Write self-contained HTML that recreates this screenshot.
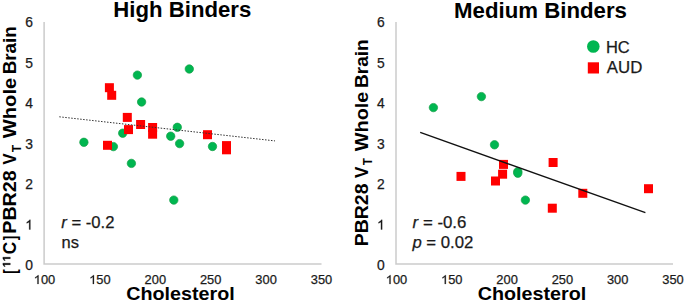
<!DOCTYPE html>
<html><head><meta charset="utf-8">
<style>
html,body{margin:0;padding:0;background:#fff;}
body{width:685px;height:303px;overflow:hidden;}
svg{display:block;font-family:"Liberation Sans", sans-serif;}
.t{font-size:12.7px;fill:#1a1a1a;stroke:#1a1a1a;stroke-width:0.25px;}
.ty{font-size:14.2px;fill:#1a1a1a;stroke:#1a1a1a;stroke-width:0.25px;}
.ti{font-size:21.3px;font-weight:bold;fill:#000;}
.xl{font-size:17.5px;font-weight:bold;fill:#000;}
.yl{font-size:18px;font-weight:bold;fill:#000;}
.st{font-size:16.5px;fill:#1a1a1a;stroke:#1a1a1a;stroke-width:0.25px;}
.lg{font-size:16.5px;fill:#1a1a1a;stroke:#1a1a1a;stroke-width:0.25px;}
</style></head>
<body>
<svg width="685" height="303" viewBox="0 0 685 303">
<rect width="685" height="303" fill="#fff"/>

<path d="M44.1 22V264H321.5" fill="none" stroke="#cbcbcb" stroke-width="1.5"/>
<text class="ty" x="25.21" y="270.00" textLength="7.70" lengthAdjust="spacingAndGlyphs">0</text>
<path d="M763 0L583 0L583 1098Q518 1038 413 979Q307 920 223 890L223 1057Q374 1125 487 1221Q600 1318 647 1409L763 1409Z" transform="translate(25.21 229.53) scale(0.00676 -0.00693)" fill="#1a1a1a" stroke="#1a1a1a" stroke-width="36.1"/>
<text class="ty" x="25.21" y="189.06" textLength="7.70" lengthAdjust="spacingAndGlyphs">2</text>
<text class="ty" x="25.21" y="148.59" textLength="7.70" lengthAdjust="spacingAndGlyphs">3</text>
<text class="ty" x="25.21" y="108.12" textLength="7.70" lengthAdjust="spacingAndGlyphs">4</text>
<text class="ty" x="25.21" y="67.65" textLength="7.70" lengthAdjust="spacingAndGlyphs">5</text>
<text class="ty" x="25.21" y="27.18" textLength="7.70" lengthAdjust="spacingAndGlyphs">6</text>
<path d="M763 0L583 0L583 1098Q518 1038 413 979Q307 920 223 890L223 1057Q374 1125 487 1221Q600 1318 647 1409L763 1409Z" transform="translate(33.77 283.90) scale(0.00628 -0.00620)" fill="#1a1a1a" stroke="#1a1a1a" stroke-width="40.3"/>
<text class="t" x="40.92" y="283.90" textLength="14.30" lengthAdjust="spacingAndGlyphs">00</text>
<path d="M763 0L583 0L583 1098Q518 1038 413 979Q307 920 223 890L223 1057Q374 1125 487 1221Q600 1318 647 1409L763 1409Z" transform="translate(89.18 283.90) scale(0.00628 -0.00620)" fill="#1a1a1a" stroke="#1a1a1a" stroke-width="40.3"/>
<text class="t" x="96.33" y="283.90" textLength="14.30" lengthAdjust="spacingAndGlyphs">50</text>
<text class="t" x="144.58" y="283.90" textLength="21.45" lengthAdjust="spacingAndGlyphs">200</text>
<text class="t" x="199.97" y="283.90" textLength="21.45" lengthAdjust="spacingAndGlyphs">250</text>
<text class="t" x="255.38" y="283.90" textLength="21.45" lengthAdjust="spacingAndGlyphs">300</text>
<text class="t" x="310.77" y="283.90" textLength="21.45" lengthAdjust="spacingAndGlyphs">350</text>
<path d="M396.0 22V264H673.0" fill="none" stroke="#cbcbcb" stroke-width="1.5"/>
<text class="ty" x="377.01" y="270.00" textLength="7.70" lengthAdjust="spacingAndGlyphs">0</text>
<path d="M763 0L583 0L583 1098Q518 1038 413 979Q307 920 223 890L223 1057Q374 1125 487 1221Q600 1318 647 1409L763 1409Z" transform="translate(377.01 229.53) scale(0.00676 -0.00693)" fill="#1a1a1a" stroke="#1a1a1a" stroke-width="36.1"/>
<text class="ty" x="377.01" y="189.06" textLength="7.70" lengthAdjust="spacingAndGlyphs">2</text>
<text class="ty" x="377.01" y="148.59" textLength="7.70" lengthAdjust="spacingAndGlyphs">3</text>
<text class="ty" x="377.01" y="108.12" textLength="7.70" lengthAdjust="spacingAndGlyphs">4</text>
<text class="ty" x="377.01" y="67.65" textLength="7.70" lengthAdjust="spacingAndGlyphs">5</text>
<text class="ty" x="377.01" y="27.18" textLength="7.70" lengthAdjust="spacingAndGlyphs">6</text>
<path d="M763 0L583 0L583 1098Q518 1038 413 979Q307 920 223 890L223 1057Q374 1125 487 1221Q600 1318 647 1409L763 1409Z" transform="translate(385.77 283.90) scale(0.00628 -0.00620)" fill="#1a1a1a" stroke="#1a1a1a" stroke-width="40.3"/>
<text class="t" x="392.92" y="283.90" textLength="14.30" lengthAdjust="spacingAndGlyphs">00</text>
<path d="M763 0L583 0L583 1098Q518 1038 413 979Q307 920 223 890L223 1057Q374 1125 487 1221Q600 1318 647 1409L763 1409Z" transform="translate(441.07 283.90) scale(0.00628 -0.00620)" fill="#1a1a1a" stroke="#1a1a1a" stroke-width="40.3"/>
<text class="t" x="448.22" y="283.90" textLength="14.30" lengthAdjust="spacingAndGlyphs">50</text>
<text class="t" x="496.38" y="283.90" textLength="21.45" lengthAdjust="spacingAndGlyphs">200</text>
<text class="t" x="551.67" y="283.90" textLength="21.45" lengthAdjust="spacingAndGlyphs">250</text>
<text class="t" x="606.98" y="283.90" textLength="21.45" lengthAdjust="spacingAndGlyphs">300</text>
<text class="t" x="662.27" y="283.90" textLength="21.45" lengthAdjust="spacingAndGlyphs">350</text>
<text class="ti" x="182.3" y="17.3" text-anchor="middle" textLength="138" lengthAdjust="spacingAndGlyphs">High Binders</text>
<text class="ti" x="540.5" y="17.5" text-anchor="middle" textLength="173" lengthAdjust="spacingAndGlyphs">Medium Binders</text>
<text class="xl" x="180.5" y="300.2" text-anchor="middle" textLength="108.5" lengthAdjust="spacingAndGlyphs">Cholesterol</text>
<text class="xl" x="532" y="300.3" text-anchor="middle" textLength="108.5" lengthAdjust="spacingAndGlyphs">Cholesterol</text>
<text class="yl" style="font-size:18px" transform="translate(16.4 273.66) rotate(-90)" textLength="4.53" lengthAdjust="spacingAndGlyphs">[</text>
<text class="yl" style="font-size:18px" transform="translate(16.4 254.31) rotate(-90)" textLength="12.48" lengthAdjust="spacingAndGlyphs">C</text>
<text class="yl" style="font-size:18px" transform="translate(16.4 240.17) rotate(-90)" textLength="4.53" lengthAdjust="spacingAndGlyphs">]</text>
<text class="yl" style="font-size:18px" transform="translate(16.4 233.72) rotate(-90)" textLength="63.42" lengthAdjust="spacingAndGlyphs">PBR28</text>
<text class="yl" style="font-size:18px" transform="translate(16.4 164.41) rotate(-90)" textLength="11.03" lengthAdjust="spacingAndGlyphs">V</text>
<text class="yl" style="font-size:12px" transform="translate(20.6 152.24) rotate(-90)" textLength="7.47" lengthAdjust="spacingAndGlyphs">T</text>
<text class="yl" style="font-size:18px" transform="translate(16.4 138.22) rotate(-90)" textLength="60.41" lengthAdjust="spacingAndGlyphs">Whole</text>
<text class="yl" style="font-size:18px" transform="translate(16.4 74.36) rotate(-90)" textLength="48.13" lengthAdjust="spacingAndGlyphs">Brain</text>
<text class="yl" style="font-size:18px" transform="translate(367.8 246.30) rotate(-90)" textLength="62.80" lengthAdjust="spacingAndGlyphs">PBR28</text>
<text class="yl" style="font-size:18px" transform="translate(367.8 178.12) rotate(-90)" textLength="11.33" lengthAdjust="spacingAndGlyphs">V</text>
<text class="yl" style="font-size:12px" transform="translate(372.1 165.33) rotate(-90)" textLength="7.16" lengthAdjust="spacingAndGlyphs">T</text>
<text class="yl" style="font-size:18px" transform="translate(367.8 151.22) rotate(-90)" textLength="59.60" lengthAdjust="spacingAndGlyphs">Whole</text>
<text class="yl" style="font-size:18px" transform="translate(367.8 87.97) rotate(-90)" textLength="48.65" lengthAdjust="spacingAndGlyphs">Brain</text>
<g transform="translate(10.3 267.2) rotate(-90)" fill="#000" stroke="#000" stroke-width="56.9"><path d="M478 0L478 1170L140 959L140 1180L493 1409L759 1409L759 0Z" transform="scale(0.00527 -0.00527)"/><path d="M478 0L478 1170L140 959L140 1180L493 1409L759 1409L759 0Z" transform="translate(6.005 0) scale(0.00527 -0.00527)"/></g>
<g class="st">
<text x="61.3" y="228" textLength="53.2" lengthAdjust="spacingAndGlyphs"><tspan font-style="italic">r</tspan> = -0.2</text>
<text x="61.5" y="247.7">ns</text>
<text x="412.6" y="227.8" textLength="53.8" lengthAdjust="spacingAndGlyphs"><tspan font-style="italic">r</tspan> = -0.6</text>
<text x="412.4" y="247.8" textLength="61" lengthAdjust="spacingAndGlyphs"><tspan font-style="italic">p</tspan> = 0.02</text>
</g>
<circle cx="593.3" cy="46.5" r="6.3" fill="#00b650"/>
<rect x="587.8" y="62.3" width="11.2" height="11.2" fill="#ff0000"/>
<g class="lg"><text x="605.9" y="52.6">HC</text><text x="606.8" y="72.8" textLength="35.5" lengthAdjust="spacingAndGlyphs">AUD</text></g>
<g fill="#00b650" stroke="#14a048" stroke-width="0.7">
<circle cx="137.4" cy="75.1" r="4.2"/>
<circle cx="189.3" cy="69" r="4.2"/>
<circle cx="141.6" cy="102" r="4.2"/>
<circle cx="83.9" cy="142.3" r="4.2"/>
<circle cx="113.4" cy="146.6" r="4.2"/>
<circle cx="122.7" cy="133.2" r="4.2"/>
<circle cx="177.3" cy="127.3" r="4.2"/>
<circle cx="170.7" cy="136.2" r="4.2"/>
<circle cx="179.6" cy="143.6" r="4.2"/>
<circle cx="212.5" cy="146.5" r="4.2"/>
<circle cx="131.4" cy="163.4" r="4.2"/>
<circle cx="173.8" cy="200.1" r="4.2"/>
</g>
<g fill="#ff0000">
<rect x="104.90" y="83.20" width="9" height="9"/>
<rect x="107.20" y="90.80" width="9" height="9"/>
<rect x="122.80" y="112.90" width="9" height="9"/>
<rect x="124.00" y="125.10" width="9" height="9"/>
<rect x="136.10" y="120.00" width="9" height="9"/>
<rect x="148.10" y="123.00" width="9" height="9"/>
<rect x="148.10" y="129.70" width="9" height="9"/>
<rect x="203.00" y="130.20" width="9" height="9"/>
<rect x="222.00" y="141.10" width="9" height="9"/>
<rect x="222.00" y="145.30" width="9" height="9"/>
<rect x="103.00" y="140.80" width="9" height="9"/>
</g>
<line x1="59.3" y1="116.8" x2="275" y2="140.9" stroke="#333" stroke-width="1" stroke-dasharray="1.5 1.5"/>
<g fill="#00b650" stroke="#14a048" stroke-width="0.7">
<circle cx="433.4" cy="107.6" r="4.2"/>
<circle cx="481.4" cy="96.6" r="4.2"/>
<circle cx="494.5" cy="144.8" r="4.2"/>
<circle cx="517.8" cy="171.6" r="4.2"/>
<circle cx="517.8" cy="173.2" r="4.2"/>
<circle cx="525.4" cy="200.1" r="4.2"/>
</g>
<g fill="#ff0000">
<rect x="456.50" y="171.90" width="9" height="9"/>
<rect x="499.00" y="159.90" width="9" height="9"/>
<rect x="498.10" y="169.70" width="9" height="9"/>
<rect x="491.00" y="176.50" width="9" height="9"/>
<rect x="548.60" y="158.00" width="9" height="9"/>
<rect x="578.30" y="188.80" width="9" height="9"/>
<rect x="547.80" y="203.70" width="9" height="9"/>
<rect x="644.00" y="184.20" width="9" height="9"/>
</g>
<line x1="420.2" y1="132.4" x2="645.4" y2="212.7" stroke="#111" stroke-width="1.4"/>
</svg>
</body></html>
